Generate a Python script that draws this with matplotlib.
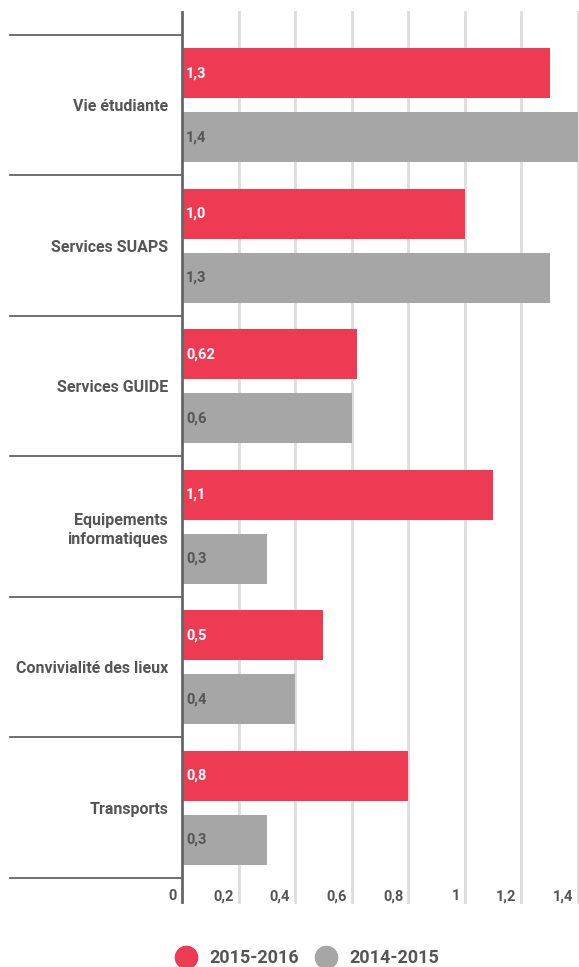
import numpy as np
import matplotlib
matplotlib.use("Agg")
import matplotlib.pyplot as plt
import matplotlib.transforms as mtransforms
from matplotlib.lines import Line2D

# Données
categories = ["Vie étudiante", "Services SUAPS", "Services GUIDE",
              "Equipements\ninformatiques", "Convivialité des lieux", "Transports"]
values_2016 = [1.3, 1.0, 0.62, 1.1, 0.5, 0.8]
values_2015 = [1.4, 1.3, 0.6, 0.3, 0.4, 0.3]
labels_2016 = ["1,3", "1,0", "0,62", "1,1", "0,5", "0,8"]
labels_2015 = ["1,4", "1,3", "0,6", "0,3", "0,4", "0,3"]
tick_values = [0, 0.2, 0.4, 0.6, 0.8, 1.0, 1.2, 1.4]
tick_labels = ["0", "0,2", "0,4", "0,6", "0,8", "1", "1,2", "1,4"]

red = "#EE3A52"
grey = "#A6A6A6"
txt = "#555555"

plt.rcParams['font.family'] = ['Roboto', 'DejaVu Sans']

W, H = 579, 967
fig = plt.figure(figsize=(W / 100, H / 100), dpi=100)
# axes: x 182 -> 578 px, y 35 -> 878 px
ax = fig.add_axes([182 / W, 1 - 878 / H, (578 - 182) / W, (878 - 35) / H])

y = np.arange(len(categories))
off = 0.228
bh = 0.356
ax.barh(y - off, values_2016, height=bh, color=red, zorder=3)
ax.barh(y + off, values_2015, height=bh, color=grey, zorder=3)

ax.set_xlim(0, 1.4)
ax.set_ylim(len(categories) - 0.5, -0.5)

# valeurs dans les barres
dx = mtransforms.ScaledTranslation(4 / 100, 0, fig.dpi_scale_trans)
for i in range(len(categories)):
    ax.text(0, y[i] - off, labels_2016[i], color="white", fontsize=10.5, fontweight="bold",
            va="center", ha="left", transform=ax.transData + dx, zorder=4)
    ax.text(0, y[i] + off, labels_2015[i], color=txt, fontsize=10.5, fontweight="bold",
            va="center", ha="left", transform=ax.transData + dx, zorder=4)

for s in ax.spines.values():
    s.set_visible(False)

# grille verticale qui dépasse l'axe
blend = mtransforms.blended_transform_factory(ax.transData, ax.transAxes)
for t in tick_values[1:]:
    ax.plot([t, t], [-0.028, 1.027], transform=blend, color="#DDDDDD", lw=2,
            clip_on=False, zorder=1)
ax.plot([0, 0], [-0.028, 1.027], transform=blend, color="#666666", lw=2,
        clip_on=False, zorder=5)

# séparateurs des catégories
blend_y = mtransforms.blended_transform_factory(ax.transAxes, ax.transData)
for b in np.arange(-0.5, len(categories), 1.0):
    ax.plot([-172 / 396, 0], [b, b], transform=blend_y, color="#555555", lw=1.2,
            clip_on=False, zorder=2)

# ticks x
ax.set_xticks(tick_values)
ax.set_xticklabels(tick_labels)
ax.tick_params(axis="x", length=0, pad=8, labelsize=10.5, labelcolor=txt)
shift = mtransforms.ScaledTranslation(-5 / 100, 0, fig.dpi_scale_trans)
for lab in ax.get_xticklabels():
    lab.set_horizontalalignment("right")
    lab.set_fontweight("bold")
    lab.set_transform(lab.get_transform() + shift)

# ticks y
ax.set_yticks(y)
ax.set_yticklabels(categories)
ax.tick_params(axis="y", length=0, pad=10, labelsize=11.5, labelcolor=txt)
for lab in ax.get_yticklabels():
    lab.set_fontweight("bold")
    lab.set_linespacing(1.3)

# légende
handles = [Line2D([], [], marker="o", ls="", color=red, markersize=16),
           Line2D([], [], marker="o", ls="", color=grey, markersize=16)]
leg = fig.legend(handles, ["2015-2016", "2014-2015"], loc="center",
                 bbox_to_anchor=(307 / W, 1 - 958 / H), ncol=2, frameon=False,
                 fontsize=13, handletextpad=0.7, columnspacing=0.9, handlelength=1.2)
for t in leg.get_texts():
    t.set_color(txt)
    t.set_fontweight("bold")

fig.savefig("out.png", dpi=100)
